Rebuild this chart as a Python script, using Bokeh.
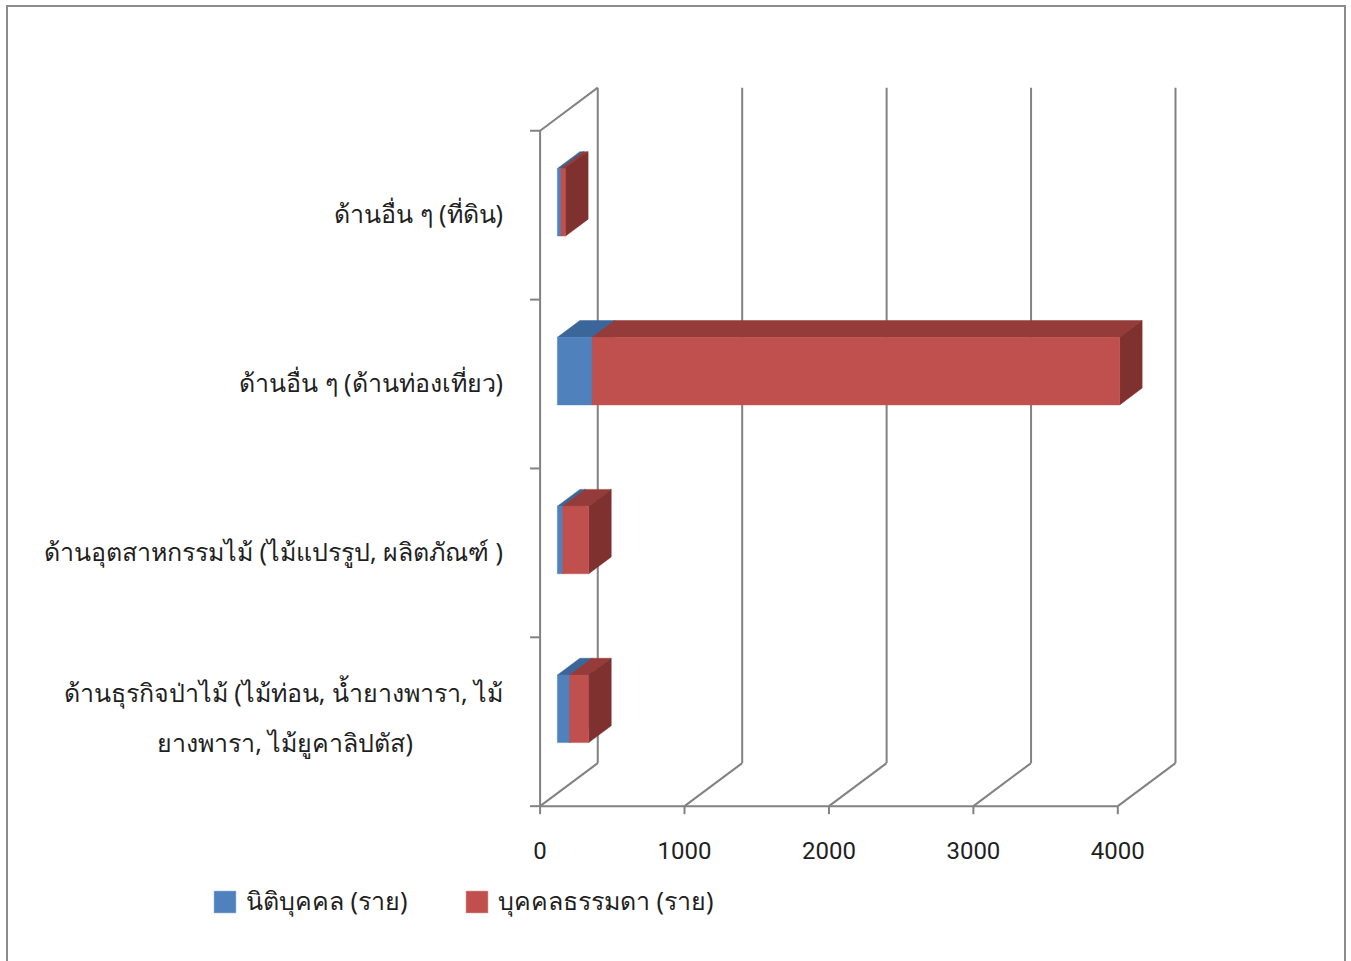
from bokeh.plotting import figure
from bokeh.models import Range1d, ColumnDataSource, Legend, LegendItem
from bokeh.core.properties import value
from bokeh.embed import file_html
from bokeh.resources import INLINE

# ---------------- data ----------------
categories = [
    "ด้านธุรกิจป่าไม้ (ไม้ท่อน, น้ำยางพารา, ไม้\nยางพารา, ไม้ยูคาลิปตัส)",
    "ด้านอุตสาหกรรมไม้ (ไม้แปรรูป, ผลิตภัณฑ์ )",
    "ด้านอื่น ๆ (ด้านท่องเที่ยว)",
    "ด้านอื่น ๆ (ที่ดิน)",
]
series_names = ["นิติบุคคล (ราย)", "บุคคลธรรมดา (ราย)"]
juristic = [85, 37, 241, 25]
individual = [132, 180, 3652, 32]
x_ticks = [0, 1000, 2000, 3000, 4000]

# ---------------- styling / geometry ----------------
W, H = 1340, 956           # outer size (border-box)
CW, CH = 1336, 954         # drawing area inside the border
PX_X = 0.144               # pixels per value unit
PX_Y = 168.5               # pixels per category band
ORIGIN_X = 530             # value 0 from the left of the drawing area (px)
ORIGIN_Y = 157             # category floor from the bottom of the drawing area (px)
DX = 57.5 / PX_X           # depth offset in value units
DY = 43.0 / PX_Y           # depth offset in category units
F0, F1 = 0.3, 0.69         # bar depth fractions
HH = 0.2                   # bar half height (band units)
TICK_Y = 10 / PX_X         # category tick length
TICK_X = 8 / PX_Y          # value tick length
GRID = "#828282"
TXT = "#1f1f1f"
FONT = "Noto Sans"
NUMFONT = "Roboto"

colors = {
    0: ("#4F81BD", "#3B6699", "#355C8A"),
    1: ("#C0504D", "#953B39", "#7E312F"),
}

n = len(categories)
p = figure(width=W, height=H,
           x_range=Range1d(-ORIGIN_X / PX_X, (CW - ORIGIN_X) / PX_X),
           y_range=Range1d(-ORIGIN_Y / PX_Y, (CH - ORIGIN_Y) / PX_Y),
           x_axis_location=None, y_axis_location=None,
           output_backend="svg", toolbar_location=None,
           min_border_left=0, min_border_top=0, min_border_right=0, min_border_bottom=0)
p.margin = (5, 0, 0, 6)
p.styles = {"border-top": "2px solid #8c8c8c", "border-left": "2px solid #8c8c8c",
            "border-right": "2px solid #8c8c8c"}
p.outline_line_color = None
p.xgrid.visible = False
p.ygrid.visible = False
p.background_fill_color = "white"
p.border_fill_color = "white"

# walls / gridlines
p.segment(x0=[t + DX for t in x_ticks], y0=[DY] * len(x_ticks), x1=[t + DX for t in x_ticks],
          y1=[n + DY] * len(x_ticks), line_color=GRID, line_width=2)
p.segment(x0=x_ticks, y0=[0] * len(x_ticks), x1=[t + DX for t in x_ticks], y1=[DY] * len(x_ticks),
          line_color=GRID, line_width=2)
p.segment(x0=[0], y0=[n], x1=[DX], y1=[n + DY], line_color=GRID, line_width=2)

# category axis (front-left edge) with boundary ticks
p.segment(x0=[0], y0=[0], x1=[0], y1=[n], line_color=GRID, line_width=2)
p.segment(x0=[-TICK_Y] * (n + 1), y0=list(range(n + 1)), x1=[0] * (n + 1), y1=list(range(n + 1)),
          line_color=GRID, line_width=2)

# value axis (front floor edge) with ticks and labels
p.segment(x0=[x_ticks[0]], y0=[0], x1=[x_ticks[-1]], y1=[0], line_color=GRID, line_width=2)
p.segment(x0=x_ticks, y0=[0] * len(x_ticks), x1=x_ticks, y1=[-TICK_X] * len(x_ticks),
          line_color=GRID, line_width=2)
p.text(x=x_ticks, y=[0] * len(x_ticks), text=[str(t) for t in x_ticks], y_offset=44,
       text_align="center", text_baseline="middle", text_font=value(NUMFONT),
       text_font_size="24px", text_color=TXT)

# 3D stacked bars
front_renderers = []
starts = [0] * n
for si, vals in enumerate([juristic, individual]):
    fc, tc, sc = colors[si]
    tops_x, tops_y, sides_x, sides_y, fr_x, fr_y = [], [], [], [], [], []
    for i in range(n):
        a = starts[i]
        b = a + vals[i]
        c = i + 0.5
        lo, hi = c - HH, c + HH
        tops_x.append([a + F0 * DX, b + F0 * DX, b + F1 * DX, a + F1 * DX])
        tops_y.append([hi + F0 * DY, hi + F0 * DY, hi + F1 * DY, hi + F1 * DY])
        sides_x.append([b + F0 * DX, b + F0 * DX, b + F1 * DX, b + F1 * DX])
        sides_y.append([lo + F0 * DY, hi + F0 * DY, hi + F1 * DY, lo + F1 * DY])
        fr_x.append([a + F0 * DX, b + F0 * DX, b + F0 * DX, a + F0 * DX])
        fr_y.append([lo + F0 * DY, lo + F0 * DY, hi + F0 * DY, hi + F0 * DY])
        starts[i] = b
    p.patches(tops_x, tops_y, fill_color=tc, line_color=tc, line_width=0.5)
    p.patches(sides_x, sides_y, fill_color=sc, line_color=sc, line_width=0.5)
    r = p.patches(fr_x, fr_y, fill_color=fc, line_color=fc, line_width=0.5)
    front_renderers.append(r)

# category labels
right_txt, right_y, right_off = [], [], []
center_txt, center_y, center_off = [], [], []
for i, cat in enumerate(categories):
    lines = cat.split("\n")
    if len(lines) == 1:
        right_txt.append(lines[0]); right_y.append(i + 0.5); right_off.append(-2)
    else:
        right_txt.append(lines[0]); right_y.append(i + 0.5); right_off.append(-30)
        center_txt.append(lines[1]); center_y.append(i + 0.5); center_off.append(20)

src_r = ColumnDataSource(dict(x=[0] * len(right_txt), y=right_y, text=right_txt, yo=right_off))
src_c = ColumnDataSource(dict(x=[0] * len(center_txt), y=center_y, text=center_txt, yo=center_off))
p.text(x="x", y="y", text="text", source=src_r, x_offset=-37, y_offset="yo",
       text_align="right", text_baseline="middle", text_font=value(FONT),
       text_font_size="25px", text_color=TXT)
p.text(x="x", y="y", text="text", source=src_c, x_offset=-255, y_offset="yo",
       text_align="center", text_baseline="middle", text_font=value(FONT),
       text_font_size="25px", text_color=TXT)

legend = Legend(items=[LegendItem(label=series_names[k], renderers=[front_renderers[k]]) for k in range(2)],
                orientation="horizontal", location=(203, 42),
                glyph_width=27, glyph_height=27, label_standoff=8, spacing=17, label_width=200,
                padding=0, margin=0, border_line_color=None, background_fill_alpha=0,
                label_text_font=FONT, label_text_font_size="25px", label_text_color=TXT)
p.add_layout(legend)

open("out.html", "w").write(file_html(p, INLINE))
